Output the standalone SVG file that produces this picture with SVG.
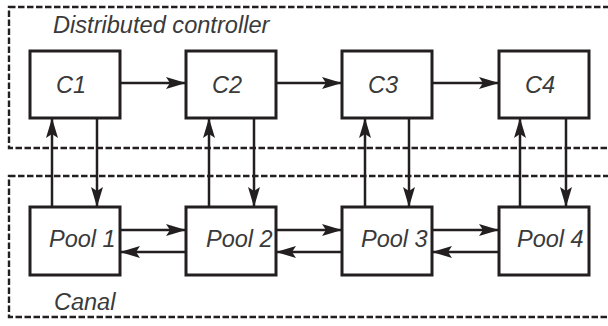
<svg xmlns="http://www.w3.org/2000/svg" width="608" height="326" viewBox="0 0 608 326">
  <defs>
    <marker id="arrow" viewBox="-21 -7 22 14" refX="0" refY="0" markerWidth="22" markerHeight="14" markerUnits="userSpaceOnUse" orient="auto">
      <path d="M0,0 L-20,-6 L-16,0 L-20,6 Z" fill="#231f20"/>
    </marker>
  </defs>
  <style>
    .region { fill: none; stroke: #231f20; stroke-width: 2.4; stroke-dasharray: 6.5 2.5; }
    .box { fill: #ffffff; stroke: #231f20; stroke-width: 3; }
    .lbl { font-family: "Liberation Sans", Arial, sans-serif; font-style: italic; font-size: 23.5px; fill: #3a3a3a; }
    .link { fill: none; stroke: #231f20; stroke-width: 2.5; marker-end: url(#arrow); }
  </style>
  <rect width="608" height="326" fill="#ffffff"/>

  <!-- regions -->
  <g id="controller-region">
    <rect class="region" x="9" y="7" width="620" height="141"/>
    <text class="lbl" x="53" y="33" style="font-size:23.6px">Distributed controller</text>
  </g>
  <g id="canal-region">
    <rect class="region" x="9" y="176" width="620" height="141"/>
    <text class="lbl" x="54" y="310">Canal</text>
  </g>

  <!-- connectors -->
  <g id="connectors">
    <!-- controller chain -->
    <line class="link" x1="120" y1="83" x2="186" y2="83"/>
    <line class="link" x1="276" y1="83" x2="342" y2="83"/>
    <line class="link" x1="432" y1="83" x2="499" y2="83"/>
    <!-- measurements up, actions down -->
    <line class="link" x1="52" y1="207" x2="52" y2="118"/>
    <line class="link" x1="97" y1="118" x2="97" y2="207"/>
    <line class="link" x1="209" y1="207" x2="209" y2="118"/>
    <line class="link" x1="254" y1="118" x2="254" y2="207"/>
    <line class="link" x1="365" y1="207" x2="365" y2="118"/>
    <line class="link" x1="409" y1="118" x2="409" y2="207"/>
    <line class="link" x1="520" y1="207" x2="520" y2="118"/>
    <line class="link" x1="566" y1="118" x2="566" y2="207"/>
    <!-- pool interactions -->
    <line class="link" x1="120" y1="230" x2="186" y2="230"/>
    <line class="link" x1="186" y1="252" x2="120" y2="252"/>
    <line class="link" x1="276" y1="230" x2="342" y2="230"/>
    <line class="link" x1="342" y1="252" x2="276" y2="252"/>
    <line class="link" x1="432" y1="230" x2="499" y2="230"/>
    <line class="link" x1="499" y1="252" x2="432" y2="252"/>
  </g>

  <!-- controllers -->
  <g id="C1">
    <rect class="box" x="30" y="51" width="90" height="67"/>
    <text class="lbl" x="71" y="93" text-anchor="middle">C1</text>
  </g>
  <g id="C2">
    <rect class="box" x="186" y="51" width="90" height="67"/>
    <text class="lbl" x="227" y="93" text-anchor="middle">C2</text>
  </g>
  <g id="C3">
    <rect class="box" x="342" y="51" width="90" height="67"/>
    <text class="lbl" x="383" y="93" text-anchor="middle">C3</text>
  </g>
  <g id="C4">
    <rect class="box" x="499" y="51" width="90" height="67"/>
    <text class="lbl" x="540" y="93" text-anchor="middle">C4</text>
  </g>

  <!-- pools -->
  <g id="Pool1">
    <rect class="box" x="30" y="207" width="90" height="68"/>
    <text class="lbl" x="49" y="247">Pool 1</text>
  </g>
  <g id="Pool2">
    <rect class="box" x="186" y="207" width="90" height="68"/>
    <text class="lbl" x="206" y="247">Pool 2</text>
  </g>
  <g id="Pool3">
    <rect class="box" x="342" y="207" width="90" height="68"/>
    <text class="lbl" x="361" y="247">Pool 3</text>
  </g>
  <g id="Pool4">
    <rect class="box" x="499" y="207" width="90" height="68"/>
    <text class="lbl" x="517" y="247">Pool 4</text>
  </g>
</svg>
